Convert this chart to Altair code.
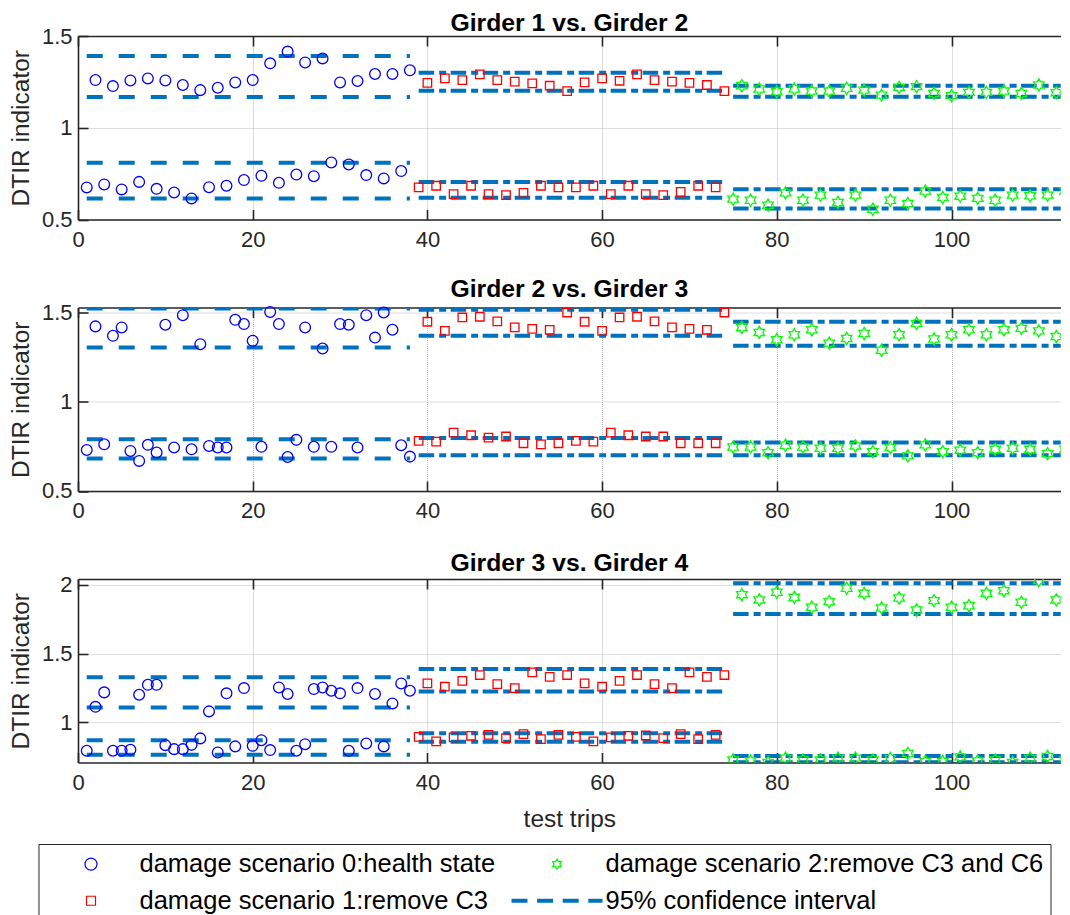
import altair as alt
import pandas as pd

FONT = "Liberation Sans"
AXIS_COLOR = "#262626"

S0 = "damage scenario 0:health state"
S1 = "damage scenario 1:remove C3"
S2 = "damage scenario 2:remove C3 and C6"
CI = "95% confidence interval"

LEGEND_ORDER = [S0, S1, S2, CI]
COLORS = ["#0000FF", "#FF0000", "#00FF00", "#0072BD"]

TRIPS_S0 = list(range(1, 39))
TRIPS_S1 = list(range(39, 75))
TRIPS_S2 = list(range(75, 115))
CI_SPAN = {S0: (1, 38), S1: (39, 74), S2: (75, 114)}

X_TICKS = [0, 20, 40, 60, 80, 100]
X_DOMAIN = [0, 112.5]

TITLES = ["Girder 1 vs. Girder 2", "Girder 2 vs. Girder 3", "Girder 3 vs. Girder 4"]
TITLE_OFFSETS = [-11, 0, -2]
Y_DOMAINS = [[0.5, 1.5], [0.5, 1.53], [0.709, 2.041]]
Y_TICKS = [[0.5, 1, 1.5], [0.5, 1, 1.5], [1, 1.5, 2]]

# ---- panel 1: Girder 1 vs. Girder 2 ----
P1_S0 = [0.675, 1.260, 0.691, 1.227, 0.664, 1.258, 0.705, 1.269, 0.667, 1.258,
         0.647, 1.233, 0.615, 1.205, 0.676, 1.218, 0.684, 1.247, 0.715, 1.260,
         0.738, 1.351, 0.700, 1.415, 0.745, 1.356, 0.736, 1.378, 0.811, 1.247,
         0.800, 1.255, 0.742, 1.293, 0.724, 1.293, 0.764, 1.313]
P1_S1 = [0.675, 1.245, 0.684, 1.269, 0.638, 1.260, 0.684, 1.291, 0.638, 1.260,
         0.633, 1.251, 0.645, 1.242, 0.684, 1.229, 0.675, 1.200, 0.675, 1.247,
         0.684, 1.269, 0.638, 1.256, 0.684, 1.291, 0.638, 1.260, 0.633, 1.251,
         0.651, 1.245, 0.684, 1.233, 0.675, 1.200]
P1_S2 = [0.611, 1.229, 0.605, 1.211, 0.578, 1.196, 0.645, 1.211, 0.605, 1.200,
         0.633, 1.200, 0.593, 1.215, 0.633, 1.205, 0.556, 1.178, 0.605, 1.220,
         0.587, 1.224, 0.655, 1.187, 0.620, 1.175, 0.627, 1.193, 0.615, 1.193,
         0.605, 1.200, 0.633, 1.187, 0.629, 1.233, 0.633, 1.191, 0.655, 1.190]
P1_CI = {S0: [1.391, 1.167, 0.809, 0.615],
         S1: [1.300, 1.202, 0.705, 0.619],
         S2: [1.229, 1.169, 0.665, 0.560]}

# ---- panel 2: Girder 2 vs. Girder 3 ----
P2_S0 = [0.730, 1.424, 0.762, 1.371, 1.418, 0.725, 0.669, 0.759, 0.716, 1.433,
         0.744, 1.487, 0.734, 1.324, 0.753, 0.744, 0.744, 1.461, 1.437, 1.343,
         0.748, 1.505, 1.437, 0.691, 0.787, 1.418, 0.748, 1.300, 0.748, 1.437,
         1.433, 0.744, 1.487, 1.361, 1.502, 1.405, 0.757, 0.693]
P2_S1 = [0.781, 1.450, 0.777, 1.399, 0.828, 1.474, 0.813, 1.478, 0.800, 1.452,
         0.806, 1.418, 0.768, 1.410, 0.762, 1.405, 0.768, 1.502, 0.781, 1.450,
         0.777, 1.399, 0.828, 1.474, 0.813, 1.478, 0.806, 1.452, 0.806, 1.418,
         0.768, 1.410, 0.768, 1.405, 0.768, 1.502]
P2_S2 = [0.747, 1.418, 0.747, 1.390, 0.715, 1.349, 0.757, 1.377, 0.747, 1.405,
         0.740, 1.330, 0.740, 1.356, 0.753, 1.384, 0.721, 1.290, 0.744, 1.377,
         0.697, 1.441, 0.759, 1.353, 0.721, 1.377, 0.729, 1.405, 0.715, 1.377,
         0.734, 1.405, 0.740, 1.413, 0.734, 1.399, 0.710, 1.367, 0.734, 1.363]
P2_CI = {S0: [1.525, 1.305, 0.791, 0.682],
         S1: [1.517, 1.371, 0.798, 0.701],
         S2: [1.450, 1.315, 0.772, 0.700]}

# ---- panel 3: Girder 3 vs. Girder 4 ----
P3_S0 = [0.794, 1.113, 1.218, 0.794, 0.794, 0.801, 1.201, 1.273, 1.273, 0.835,
         0.806, 0.806, 0.837, 0.884, 1.080, 0.782, 1.211, 0.826, 1.249, 0.830,
         0.871, 0.799, 1.254, 1.206, 0.794, 0.842, 1.242, 1.254, 1.230, 1.211,
         0.794, 1.249, 0.847, 1.206, 0.826, 1.138, 1.283, 1.230]
P3_S1 = [0.895, 1.283, 0.862, 1.259, 0.891, 1.302, 0.903, 1.344, 0.910, 1.278,
         0.886, 1.249, 0.915, 1.363, 0.879, 1.331, 0.910, 1.344, 0.895, 1.283,
         0.862, 1.259, 0.891, 1.302, 0.903, 1.344, 0.905, 1.278, 0.886, 1.249,
         0.915, 1.363, 0.879, 1.331, 0.910, 1.344]
P3_S2 = [0.728, 1.927, 0.721, 1.889, 0.709, 1.945, 0.741, 1.908, 0.728, 1.836,
         0.728, 1.877, 0.741, 1.974, 0.741, 1.937, 0.728, 1.831, 0.738, 1.903,
         0.775, 1.816, 0.717, 1.884, 0.717, 1.836, 0.750, 1.847, 0.721, 1.937,
         0.728, 1.956, 0.709, 1.872, 0.741, 2.030, 0.753, 1.889, 0.728, 1.876]
P3_CI = {S0: [1.327, 1.109, 0.871, 0.765],
         S1: [1.387, 1.225, 0.922, 0.859],
         S2: [2.010, 1.787, 0.757, 0.711]}

PANELS = [(P1_S0, P1_S1, P1_S2, P1_CI),
          (P2_S0, P2_S1, P2_S2, P2_CI),
          (P3_S0, P3_S1, P3_S2, P3_CI)]

# ---- styling ----
PX_PER_TRIP = 8.735
W = round(X_DOMAIN[1] * PX_PER_TRIP, 1)
H, GAP = 183.5, 87.5
HEXAGRAM = ("M0,-1L0.2887,-0.5L0.866,-0.5L0.5774,0L0.866,0.5L0.2887,0.5L0,1"
            "L-0.2887,0.5L-0.866,0.5L-0.5774,0L-0.866,-0.5L-0.2887,-0.5Z")

# legend symbols (one unit = 5 px because symbolSize = 100)
LG_CIRCLE = "M1.2,0A1.2,1.2,0,1,1,-1.2,0A1.2,1.2,0,1,1,1.2,0Z"
LG_SQUARE = "M-0.9,-0.9H0.9V0.9H-0.9Z"
LG_STAR = HEXAGRAM
_dash_spans = [(-9.1, -5.9), (-3.98, -0.78), (1.14, 4.34), (6.26, 9.1)]
LG_DASH = "".join(f"M{a},{yy}H{b}" for a, b in _dash_spans for yy in (-0.3, -0.1, 0.1, 0.3))


def pick(pairs, default):
    expr = default
    for key, val in reversed(pairs):
        expr = f"datum.value === '{key}' ? {val} : ({expr})"
    return expr


shape_expr = pick([(S0, f"'{LG_CIRCLE}'"), (S1, f"'{LG_SQUARE}'"), (CI, f"'{LG_DASH}'")],
                  f"'{LG_STAR}'")

LEGEND = alt.Legend(
    title=None, orient="none", legendX=-39.5, legendY=808, columns=2,
    labelFont=FONT, labelFontSize=25.5, labelColor="black", labelLimit=2000,
    symbolSize=100, symbolStrokeWidth=1.2, symbolOffset=32.75, labelOffset=35.75,
    symbolType=alt.ExprRef(expr=shape_expr), symbolFillColor="transparent",
    columnPadding=13, rowPadding=10, padding=7,
    strokeColor="#262626", fillColor="white",
)
COLOR_SCALE = alt.Scale(domain=LEGEND_ORDER, range=COLORS)


def panel(i):
    s0, s1, s2, ci = PANELS[i]
    pts = {
        S0: pd.DataFrame({"trip": TRIPS_S0, "dtir": s0, "series": S0}),
        S1: pd.DataFrame({"trip": TRIPS_S1, "dtir": s1, "series": S1}),
        S2: pd.DataFrame({"trip": TRIPS_S2, "dtir": s2, "series": S2}),
    }
    rows = []
    for s in (S0, S1, S2):
        a, b = CI_SPAN[s]
        for v in ci[s]:
            rows.append({"x1": a, "x2": b, "y": v, "group": s, "series": CI})
    rules = pd.DataFrame(rows)

    xs = alt.Scale(domain=X_DOMAIN, nice=False, zero=False)
    ys = alt.Scale(domain=Y_DOMAINS[i], nice=False, zero=False)
    color = alt.Color("series:N", scale=COLOR_SCALE, legend=LEGEND)

    common = dict(labelFont=FONT, titleFont=FONT, labelColor=AXIS_COLOR,
                  titleColor=AXIS_COLOR, tickColor=AXIS_COLOR,
                  domainColor=AXIS_COLOR)
    main_x = alt.Axis(values=X_TICKS, labelFontSize=22, labelPadding=10,
                      ticks=False, tickSize=0, domainWidth=1.6, labelFlush=False,
                      grid=True, gridColor="#bcbcbc", gridDash=[1, 1], gridWidth=1,
                      title="test trips" if i == 2 else None,
                      titleFontSize=24.5, titleFontWeight="normal", titlePadding=14,
                      **common)
    main_y = alt.Axis(values=Y_TICKS[i], format="~g", labelFontSize=22, labelPadding=6,
                      ticks=False, tickSize=0, domainWidth=1.6, labelFlush=False,
                      grid=True, gridColor="#bcbcbc", gridDash=[1, 1], gridWidth=1,
                      title="DTIR indicator", titleFontSize=24.5,
                      titleFontWeight="normal", titlePadding=7.5, **common)
    in_x = alt.Axis(values=X_TICKS, orient="top", offset=-H, labels=False, domain=False,
                    grid=False, ticks=True, tickSize=10, tickWidth=1.6, title=None, **common)
    in_y = alt.Axis(values=Y_TICKS[i], orient="right", offset=-W, labels=False, domain=False,
                    grid=False, ticks=True, tickSize=10, tickWidth=1.6, title=None, **common)
    top_x = alt.Axis(values=X_TICKS, orient="bottom", offset=-H, labels=False, domain=True,
                     domainWidth=1.6, grid=False, ticks=True, tickSize=10, tickWidth=1.6,
                     title=None, **common)

    dash = alt.Chart(rules[rules.group == S0]).mark_rule(
        strokeWidth=4, strokeDash=[16, 16], clip=True
    ).encode(
        x=alt.X("x1:Q", scale=xs, axis=main_x), x2="x2:Q",
        y=alt.Y("y:Q", scale=ys, axis=main_y), color=color,
    )
    dashdot = alt.Chart(rules[rules.group != S0]).mark_rule(
        strokeWidth=4, strokeDash=[15.5, 5, 7, 4.5], clip=True
    ).encode(
        x=alt.X("x1:Q", scale=xs, axis=in_x), x2="x2:Q",
        y=alt.Y("y:Q", scale=ys, axis=in_y), color=color,
    )
    c0 = alt.Chart(pts[S0]).mark_point(
        shape="circle", filled=False, size=115, strokeWidth=1.3, opacity=1
    ).encode(
        x=alt.X("trip:Q", scale=xs, axis=top_x),
        y=alt.Y("dtir:Q", scale=ys, axis=None), color=color,
    )
    c1 = alt.Chart(pts[S1]).mark_point(
        shape="square", filled=False, size=72, strokeWidth=1.3, opacity=1
    ).encode(
        x=alt.X("trip:Q", scale=xs, axis=None),
        y=alt.Y("dtir:Q", scale=ys, axis=None), color=color,
    )
    c2 = alt.Chart(pts[S2]).mark_point(
        shape=HEXAGRAM, filled=False, size=150, strokeWidth=1.3, opacity=1, clip=True
    ).encode(
        x=alt.X("trip:Q", scale=xs, axis=None),
        y=alt.Y("dtir:Q", scale=ys, axis=None), color=color,
    )
    return alt.layer(dash, dashdot, c0, c1, c2).resolve_axis(
        x="independent", y="independent"
    ).properties(
        width=W, height=H,
        title=alt.TitleParams(TITLES[i], font=FONT, fontSize=24.75, fontWeight="bold",
                              color="black", anchor="middle", frame="group",
                              offset=TITLE_OFFSETS[i]),
    )


chart = alt.vconcat(panel(0), panel(1), panel(2), spacing=GAP, bounds="flush").resolve_scale(
    x="independent", y="independent", color="shared"
).resolve_axis(
    x="independent", y="independent"
).configure_view(stroke=None).properties(
    background="white", padding={"left": 0, "top": 3, "right": 0, "bottom": 0}
)

chart.save("out.html", embed_options={"renderer": "svg", "actions": False})
